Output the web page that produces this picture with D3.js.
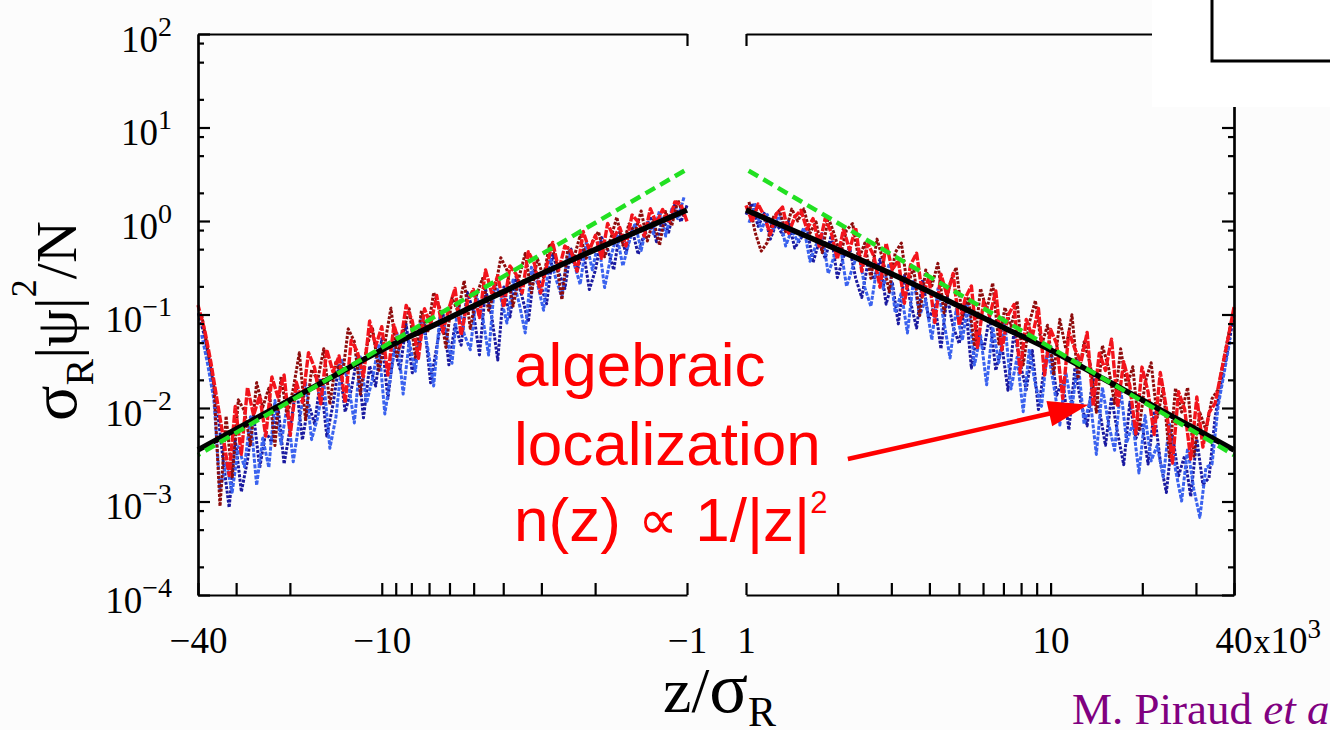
<!DOCTYPE html>
<html><head><meta charset="utf-8">
<script src="https://cdn.jsdelivr.net/npm/d3@7"></script>
<style>
html,body{margin:0;padding:0;background:#fcfcfc;}
svg{display:block;}
</style></head><body>
<svg id="chart" width="1330" height="730"></svg>
<script>
// ---------------- DATA ----------------
// |z| grids (units of 10^3 sigma_R); left panel uses -|z|
const zGridA = [1, 1.047, 1.096, 1.148, 1.202, 1.259, 1.318, 1.38, 1.445, 1.514,
  1.585, 1.66, 1.738, 1.82, 1.905, 1.995, 2.089, 2.188, 2.291, 2.399,
  2.512, 2.63, 2.754, 2.884, 3.02, 3.162, 3.311, 3.467, 3.631, 3.802,
  3.981, 4.169, 4.365, 4.571, 4.786, 5.012, 5.248, 5.495, 5.754, 6.026,
  6.31, 6.607, 6.918, 7.244, 7.586, 7.943, 8.318, 8.71, 9.12, 9.55,
  10, 10.47, 10.96, 11.48, 12.02, 12.59, 13.18, 13.8, 14.45, 15.14,
  15.85, 16.6, 17.38, 18.2, 19.05, 19.95, 20.89, 21.88, 22.91, 23.99,
  25.12, 26.3, 27.54, 28.84, 30.2, 31.62, 33.11, 34.67, 36.31, 38.02, 40];
const zGridB = [1.023, 1.072, 1.122, 1.175, 1.23, 1.288, 1.349, 1.413, 1.479, 1.549,
  1.622, 1.698, 1.778, 1.862, 1.95, 2.042, 2.138, 2.239, 2.344, 2.455,
  2.57, 2.692, 2.818, 2.951, 3.09, 3.236, 3.388, 3.548, 3.715, 3.89,
  4.074, 4.266, 4.467, 4.677, 4.898, 5.129, 5.37, 5.623, 5.888, 6.166,
  6.457, 6.761, 7.079, 7.413, 7.762, 8.128, 8.511, 8.913, 9.333, 9.772,
  10.23, 10.72, 11.22, 11.75, 12.3, 12.88, 13.49, 14.13, 14.79, 15.49,
  16.22, 16.98, 17.78, 18.62, 19.5, 20.42, 21.38, 22.39, 23.44, 24.55,
  25.7, 26.92, 28.18, 29.51, 30.9, 32.36, 33.88, 35.48, 37.15, 38.9];

// left panel (z<0)
const leftRed = [0.99, 1.5, 1.6, 0.96, 1.33, 0.95, 1.35, 0.69, 0.98, 1.16,
  0.54, 0.85, 0.67, 0.94, 0.40, 0.70, 0.49, 0.77, 0.29, 0.48,
  0.54, 0.30, 0.59, 0.33, 0.17, 0.35, 0.47, 0.17, 0.27, 0.33,
  0.12, 0.26, 0.17, 0.30, 0.093, 0.185, 0.137, 0.060, 0.19, 0.116,
  0.065, 0.16, 0.078, 0.115, 0.034, 0.085, 0.125, 0.046, 0.077, 0.0225,
  0.074, 0.046, 0.085, 0.0216, 0.040, 0.053, 0.0114, 0.036, 0.0244, 0.042,
  0.0111, 0.0269, 0.039, 0.0115, 0.0188, 0.0051, 0.0225, 0.0131, 0.0214, 0.0050,
  0.0135, 0.0084, 0.0166, 0.0032, 0.0104, 0.0019, 0.0050, 0.0123, 0.031, 0.068, 0.126];
const leftNavy = [1.47, 0.98, 1.52, 0.76, 1.06, 0.60, 1.12, 0.74, 0.44, 0.82,
  0.45, 0.77, 0.30, 0.50, 0.665, 0.30, 0.185, 0.49, 0.29, 0.50,
  0.19, 0.28, 0.44, 0.13, 0.21, 0.30, 0.083, 0.154, 0.255, 0.094,
  0.197, 0.0326, 0.096, 0.187, 0.037, 0.109, 0.173, 0.047, 0.0785, 0.029,
  0.108, 0.045, 0.0186, 0.0775, 0.0455, 0.0238, 0.0787, 0.026, 0.043, 0.0126,
  0.055, 0.0172, 0.0282, 0.00785, 0.0362, 0.0156, 0.0091, 0.0296, 0.0109, 0.0050,
  0.0207, 0.00676, 0.0111, 0.00456, 0.0175, 0.00614, 0.00252, 0.0104, 0.00428, 0.00557,
  0.00229, 0.0084, 0.00275, 0.00127, 0.00466, 0.00086, 0.0028, 0.0105, 0.0263, 0.0575, 0.107];
const leftDarkRed = [1.13, 1.68, 0.89, 1.26, 0.55, 1.03, 0.61, 1.28, 0.755, 0.93,
  0.55, 1.10, 0.65, 0.414, 0.77, 0.60, 0.40, 0.70, 0.41, 0.52,
  0.144, 0.405, 0.57, 0.249, 0.394, 0.171, 0.45, 0.252, 0.123, 0.30,
  0.405, 0.177, 0.111, 0.243, 0.16, 0.071, 0.23, 0.107, 0.151, 0.0445,
  0.117, 0.172, 0.0637, 0.110, 0.0348, 0.115, 0.0646, 0.0354, 0.117, 0.0485,
  0.0253, 0.0705, 0.0449, 0.014, 0.0514, 0.0701, 0.0204, 0.0319, 0.0109, 0.043,
  0.0199, 0.0258, 0.00753, 0.039, 0.016, 0.0083, 0.0216, 0.00397, 0.0163, 0.0102,
  0.0187, 0.00404, 0.00935, 0.0122, 0.00178, 0.0082, 0.00089, 0.0178, 0.0417, 0.099];
const leftBlue = [1.79, 1.06, 1.34, 0.69, 1.29, 0.73, 0.96, 0.485, 0.95, 0.59,
  0.33, 0.70, 0.41, 0.194, 0.61, 0.30, 0.59, 0.21, 0.35, 0.465,
  0.154, 0.244, 0.42, 0.111, 0.216, 0.32, 0.0635, 0.132, 0.234, 0.081,
  0.151, 0.222, 0.0368, 0.0966, 0.16, 0.0419, 0.0618, 0.135, 0.0301, 0.0705,
  0.0927, 0.0172, 0.0451, 0.094, 0.0247, 0.0514, 0.0141, 0.063, 0.0233, 0.00863,
  0.0482, 0.0208, 0.0113, 0.0352, 0.00693, 0.0189, 0.0324, 0.00802, 0.00371, 0.0192,
  0.0079, 0.00459, 0.0189, 0.00726, 0.00266, 0.0105, 0.00411, 0.012, 0.00231, 0.00476,
  0.00149, 0.00805, 0.00235, 0.00385, 0.00126, 0.00259, 0.00132, 0.0123, 0.0288, 0.0603];

// right panel (z>0)
const rightRed = [1.47, 0.98, 1.52, 1.13, 0.72, 1.19, 1.41, 0.74, 1.10, 1.30,
  0.82, 1.06, 0.54, 1.07, 0.75, 0.39, 0.82, 0.49, 0.85, 0.29,
  0.57, 0.42, 0.196, 0.58, 0.30, 0.38, 0.132, 0.337, 0.453, 0.157,
  0.248, 0.0818, 0.27, 0.159, 0.275, 0.0773, 0.15, 0.202, 0.0442, 0.139,
  0.0962, 0.179, 0.0417, 0.0975, 0.128, 0.0238, 0.0883, 0.0582, 0.116, 0.0225,
  0.0693, 0.0485, 0.0126, 0.0653, 0.0426, 0.0312, 0.0643, 0.0105, 0.0386, 0.0252,
  0.0545, 0.0102, 0.0313, 0.0173, 0.00528, 0.0274, 0.0149, 0.00521, 0.024, 0.0099,
  0.00257, 0.0149, 0.00975, 0.00284, 0.0131, 0.00382, 0.0089, 0.0112, 0.024, 0.050, 0.12];
const rightNavy = [1.17, 1.55, 0.875, 1.21, 0.64, 0.95, 0.71, 1.0, 0.515, 0.65,
  0.86, 0.36, 0.60, 0.40, 0.70, 0.248, 0.413, 0.52, 0.245, 0.152,
  0.357, 0.237, 0.39, 0.129, 0.224, 0.0794, 0.262, 0.137, 0.0718, 0.237,
  0.0879, 0.13, 0.0429, 0.159, 0.0741, 0.0488, 0.137, 0.0267, 0.07, 0.0411,
  0.0962, 0.0252, 0.0468, 0.0155, 0.0673, 0.03, 0.0157, 0.0412, 0.00964, 0.0283,
  0.0469, 0.0137, 0.02, 0.00582, 0.0269, 0.0111, 0.00643, 0.0235, 0.0097, 0.00399,
  0.0131, 0.00537, 0.00248, 0.0115, 0.00471, 0.00689, 0.00252, 0.00927, 0.0027, 0.00125,
  0.00513, 0.00188, 0.00308, 0.00113, 0.00466, 0.00152, 0.00178, 0.0079, 0.019, 0.0398, 0.10];
const rightDarkRed = [1.60, 0.75, 0.476, 0.59, 1.10, 1.30, 0.766, 1.34, 1.0, 1.35,
  0.74, 0.98, 0.46, 1.09, 0.72, 0.43, 0.80, 0.94, 0.39, 0.58,
  0.244, 0.64, 0.38, 0.176, 0.46, 0.58, 0.20, 0.318, 0.0977, 0.30,
  0.203, 0.352, 0.104, 0.216, 0.319, 0.0938, 0.155, 0.0457, 0.19, 0.112,
  0.217, 0.0485, 0.119, 0.0746, 0.139, 0.0289, 0.0813, 0.141, 0.0466, 0.0769,
  0.0225, 0.0887, 0.0429, 0.0993, 0.0205, 0.0508, 0.0295, 0.009, 0.0467, 0.0271,
  0.0112, 0.0429, 0.0169, 0.0276, 0.00569, 0.0186, 0.0305, 0.00793, 0.0163, 0.003,
  0.0163, 0.00904, 0.0166, 0.00305, 0.00891, 0.00581, 0.0126, 0.0158, 0.0355, 0.0759];
const rightBlue = [0.96, 1.50, 0.79, 1.17, 0.815, 1.21, 0.54, 0.805, 0.60, 0.85,
  0.372, 0.553, 0.733, 0.274, 0.425, 0.537, 0.20, 0.319, 0.473, 0.194,
  0.122, 0.322, 0.189, 0.352, 0.104, 0.171, 0.0635, 0.236, 0.0977, 0.144,
  0.0535, 0.189, 0.0824, 0.0343, 0.113, 0.0527, 0.138, 0.0288, 0.0601, 0.0177,
  0.0736, 0.0306, 0.0802, 0.016, 0.0348, 0.00914, 0.0427, 0.0177, 0.0104, 0.0433,
  0.0179, 0.00658, 0.0241, 0.00993, 0.0324, 0.0067, 0.0123, 0.00319, 0.0166, 0.00681,
  0.00353, 0.0163, 0.00424, 0.00693, 0.00202, 0.00832, 0.00272, 0.00397, 0.00183, 0.00673,
  0.0022, 0.00101, 0.00372, 0.00136, 0.000676, 0.00231, 0.00251, 0.0105, 0.024, 0.0562];

// theory curve (black) and 1/|z|^2 guide (green), symmetric in |z|
const fitZ = [1, 1.5, 2, 3, 5, 7, 10, 15, 20, 30, 40];
const fitVals = [1.31, 0.74, 0.494, 0.272, 0.123, 0.0726, 0.0417, 0.0203, 0.0122, 0.00593, 0.00356];
const guideZ = [1.02, 40];
const guideVals = [3.45, 0.00314];

// ticks
const xTicksLeft = [-40, -30, -20, -10, -9, -8, -7, -6, -5, -4, -3, -2, -1];
const xLabelsLeft = [-40, -10, -1];
const xTicksRight = [1, 2, 3, 4, 5, 6, 7, 8, 9, 10, 20, 30, 40];
const xLabelsRight = [1, 10, 40];
const xTopLeft = [-1];
const xTopRight = [1];
const yMajor = [1e-4, 1e-3, 1e-2, 1e-1, 1, 10, 100];
const yExponents = ["\u22124", "\u22123", "\u22122", "\u22121", "0", "1", "2"];
const yMinor = [2e-4, 5e-4, 8e-4, 2e-3, 5e-3, 8e-3, 0.02, 0.05, 0.08, 0.2, 0.5, 0.8, 2, 5, 8, 20, 50, 80];

// ---------------- DRAW ----------------
const W = 1330, H = 730;
const svg = d3.select("#chart");
svg.append("rect").attr("width", W).attr("height", H).attr("fill", "#fcfcfc");

const yTop = 34, yBot = 595;
const xL = d3.scaleLog().domain([-40, -1]).range([198, 687]);
const xR = d3.scaleLog().domain([1, 40]).range([746, 1234]);
const y = d3.scaleLog().domain([1e-4, 1e2]).range([yBot, yTop]);

const serif = "'Liberation Serif','Times New Roman',Times,serif";
const sans = "'Liberation Sans',Arial,Helvetica,sans-serif";

const zip = (grid, vals) => grid.map((z, i) => ({ z: z, v: vals[i] }));
const lineL = d3.line().x(d => xL(-d.z)).y(d => y(d.v));
const lineR = d3.line().x(d => xR(d.z)).y(d => y(d.v));

const seriesDefs = [
  { grid: zGridA, left: leftNavy, right: rightNavy, color: "#1a1aa0", dash: "3 1.5", w: 3 },
  { grid: zGridB, left: leftBlue, right: rightBlue, color: "#3a62ee", dash: "4 1.5", w: 3 },
  { grid: zGridB, left: leftDarkRed, right: rightDarkRed, color: "#8e0c0c", dash: "3 1.5", w: 3 },
  { grid: zGridA, left: leftRed, right: rightRed, color: "#f2141c", dash: "8 1.5", w: 3.4 }
];
const dataG = svg.append("g");
seriesDefs.forEach(s => {
  dataG.append("path").attr("d", lineL(zip(s.grid, s.left)))
    .attr("fill", "none").attr("stroke", s.color).attr("stroke-width", s.w)
    .attr("stroke-dasharray", s.dash).attr("stroke-linejoin", "round");
  dataG.append("path").attr("d", lineR(zip(s.grid, s.right)))
    .attr("fill", "none").attr("stroke", s.color).attr("stroke-width", s.w)
    .attr("stroke-dasharray", s.dash).attr("stroke-linejoin", "round");
});

// black theory line
const fitData = zip(fitZ, fitVals);
const curveL = d3.line().x(d => xL(-d.z)).y(d => y(d.v)).curve(d3.curveMonotoneX);
const curveR = d3.line().x(d => xR(d.z)).y(d => y(d.v)).curve(d3.curveMonotoneX);
svg.append("path").attr("d", curveL(fitData)).attr("fill", "none").attr("stroke", "#000").attr("stroke-width", 5.5);
svg.append("path").attr("d", curveR(fitData)).attr("fill", "none").attr("stroke", "#000").attr("stroke-width", 5.5);

// green guide
const guideData = zip(guideZ, guideVals);
svg.append("path").attr("d", lineL(guideData)).attr("fill", "none").attr("stroke", "#22e022")
  .attr("stroke-width", 4.5).attr("stroke-dasharray", "11 6");
svg.append("path").attr("d", lineR(guideData)).attr("fill", "none").attr("stroke", "#22e022")
  .attr("stroke-width", 4.5).attr("stroke-dasharray", "11 6");

// axes
function styleAxis(g) {
  g.selectAll("path,line").attr("stroke", "#000").attr("stroke-width", 2.2);
  g.attr("font-family", serif).attr("font-size", 37);
  g.selectAll("text").attr("fill", "#000");
}
const fmtL = d => xLabelsLeft.includes(d) ? "\u2212" + Math.abs(d) : "";
const fmtR = d => (xLabelsRight.includes(d) && d !== 40) ? String(d) : "";

svg.append("g").attr("transform", `translate(0,${yBot})`)
  .call(d3.axisBottom(xL).tickValues(xTicksLeft).tickSize(-12).tickSizeOuter(0).tickPadding(32).tickFormat(fmtL))
  .call(styleAxis);
const axBR = svg.append("g").attr("transform", `translate(0,${yBot})`)
  .call(d3.axisBottom(xR).tickValues(xTicksRight).tickSize(-12).tickSizeOuter(0).tickPadding(32).tickFormat(fmtR))
  .call(styleAxis);
axBR.selectAll(".tick text").filter(d => d === 40)
  .attr("text-anchor", "start").attr("x", -19)
  .each(function () {
    const t = d3.select(this);
    t.text("40");
    t.append("tspan").attr("font-size", 34).attr("dx", 1).text("x");
    t.append("tspan").text("10");
    t.append("tspan").attr("font-size", 27).attr("dy", -15).text("3");
  });

svg.append("g").attr("transform", `translate(0,${yTop})`)
  .call(d3.axisTop(xL).tickValues(xTopLeft).tickSize(-12).tickSizeOuter(0).tickFormat(""))
  .call(styleAxis);
svg.append("g").attr("transform", `translate(0,${yTop})`)
  .call(d3.axisTop(xR).tickValues(xTopRight).tickSize(-12).tickSizeOuter(0).tickFormat(""))
  .call(styleAxis);

// y axis left (major with labels)
const axYL = svg.append("g").attr("transform", "translate(198,0)")
  .call(d3.axisLeft(y).tickValues(yMajor).tickSize(-12).tickSizeOuter(0).tickPadding(26).tickFormat(""))
  .call(styleAxis);
axYL.selectAll(".tick text").attr("dy", 17)
  .each(function (d, i) {
    const t = d3.select(this);
    t.text("10");
    t.append("tspan").attr("font-size", 28).attr("dy", -16).text(yExponents[i]);
  });
svg.append("g").attr("transform", "translate(198,0)")
  .call(d3.axisLeft(y).tickValues(yMinor).tickSize(-6).tickSizeOuter(0).tickFormat(""))
  .call(styleAxis);

// y axis right
svg.append("g").attr("transform", "translate(1234,0)")
  .call(d3.axisRight(y).tickValues(yMajor).tickSize(-12).tickSizeOuter(0).tickFormat(""))
  .call(styleAxis);
svg.append("g").attr("transform", "translate(1234,0)")
  .call(d3.axisRight(y).tickValues(yMinor).tickSize(-6).tickSizeOuter(0).tickFormat(""))
  .call(styleAxis);

// axis titles
const yt = svg.append("text").attr("transform", "translate(76,421) rotate(-90)")
  .attr("font-family", serif).attr("font-size", 58).attr("fill", "#000");
yt.append("tspan").attr("font-size", 66).text("\u03c3");
yt.append("tspan").attr("font-size", 40).attr("dy", 17).text("R");
yt.append("tspan").attr("font-size", 60).attr("dy", -17).text("|\u03c8|");
yt.append("tspan").attr("font-size", 36).attr("dy", -40).text("2");
yt.append("tspan").attr("dy", 40).text("/N");

const xt = svg.append("text").attr("x", 663).attr("y", 712)
  .attr("font-family", serif).attr("font-size", 64).attr("fill", "#000");
xt.append("tspan").text("z/");
xt.append("tspan").attr("font-size", 72).text("\u03c3");
xt.append("tspan").attr("font-size", 42).attr("dy", 14).text("R");

// annotation
const ann = svg.append("g").attr("font-family", sans).attr("font-size", 62).attr("fill", "#ff0000");
ann.append("text").attr("x", 514).attr("y", 386).text("algebraic");
ann.append("text").attr("x", 514).attr("y", 465).text("localization");
const eq = ann.append("text").attr("x", 514).attr("y", 541);
eq.append("tspan").text("n(z) ");
eq.append("tspan").attr("font-family", "'DejaVu Sans',sans-serif").attr("font-size", 56).attr("dy", -2).text("\u221d");
eq.append("tspan").attr("dy", 2).text(" 1/|z|");
eq.append("tspan").attr("font-size", 31).attr("dy", -28).text("2");

// arrow (data coordinates on right panel)
const arrowFrom = { z: 2.16, v: 0.00285 }, arrowTo = { z: 13.3, v: 0.0108 };
const ax0 = xR(arrowFrom.z), ay0 = y(arrowFrom.v), ax1 = xR(arrowTo.z), ay1 = y(arrowTo.v);
const len = Math.hypot(ax1 - ax0, ay1 - ay0), ux = (ax1 - ax0) / len, uy = (ay1 - ay0) / len;
const hl = 40, hw = 13;
const bx = ax1 - ux * hl, by = ay1 - uy * hl;
svg.append("line").attr("x1", ax0).attr("y1", ay0).attr("x2", bx + ux * 4).attr("y2", by + uy * 4)
  .attr("stroke", "#ff0000").attr("stroke-width", 4.5);
svg.append("path").attr("d", `M${ax1},${ay1}L${bx - uy * hw},${by + ux * hw}L${bx + uy * hw},${by - ux * hw}Z`)
  .attr("fill", "#ff0000");

// author credit
const cred = svg.append("text").attr("x", 1072).attr("y", 724).attr("font-family", serif)
  .attr("font-size", 45).attr("fill", "#800080");
cred.append("tspan").text("M. Piraud ");
cred.append("tspan").attr("font-style", "italic").text("et al.");

// white inset box at top right
svg.append("rect").attr("x", 1152).attr("y", 0).attr("width", 178).attr("height", 107).attr("fill", "#ffffff");
svg.append("path").attr("d", "M1212,0V61H1330").attr("fill", "none").attr("stroke", "#000").attr("stroke-width", 3);
</script>
</body></html>
